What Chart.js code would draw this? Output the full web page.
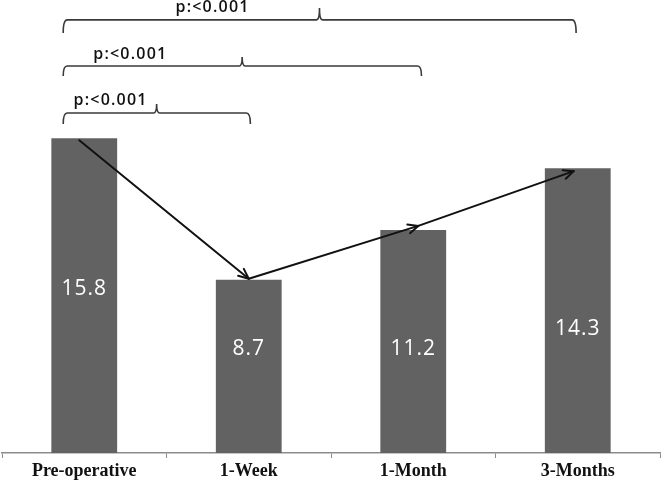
<!DOCTYPE html>
<html>
<head>
<meta charset="utf-8">
<script src="https://cdn.jsdelivr.net/npm/chart.js@4/dist/chart.umd.min.js"></script>
<style>
  html, body { margin: 0; padding: 0; background: #ffffff; }
  #wrap { width: 662px; height: 485px; position: relative; }
</style>
</head>
<body>
<div id="wrap"><canvas id="c"></canvas></div>
<script>
// ---- data ----
const categories = ['Pre-operative', '1-Week', '1-Month', '3-Months'];
const values = [15.8, 8.7, 11.2, 14.3];
const valueLabels = ['15.8', '8.7', '11.2', '14.3'];
const comparisonFrom = [0, 0, 0];
const comparisonTo = [1, 2, 3];
const pLabels = ['p:<0.001', 'p:<0.001', 'p:<0.001'];

// ---- annotation plugin ----
const overlay = {
  id: 'overlay',
  afterDatasetsDraw(chart, args, opts) {
    const ctx = chart.ctx;
    const xs = chart.scales.x, ys = chart.scales.y;
    const meta = chart.getDatasetMeta(0);
    const cw = xs.getPixelForValue(1) - xs.getPixelForValue(0);
    const catX = (c) => xs.getPixelForValue(0) + c * cw;

    // value labels inside bars
    ctx.save();
    ctx.fillStyle = '#ffffff';
    ctx.font = '21px "Open Sans", "Liberation Sans", sans-serif';
    ctx.letterSpacing = '1px';
    ctx.textAlign = 'center';
    ctx.textBaseline = 'middle';
    meta.data.forEach((bar, i) => {
      ctx.fillText(valueLabels[i], bar.x, ys.getPixelForValue(opts.labelAt[i]));
    });
    ctx.restore();

    // arrows between bar tops
    const pts = meta.data.map((bar, i) => ({
      x: bar.x + opts.arrowDx[i],
      y: ys.getPixelForValue(values[i]) + opts.arrowDy[i]
    }));
    ctx.save();
    ctx.strokeStyle = '#111111';
    ctx.lineWidth = 2;
    ctx.lineCap = 'round';
    ctx.lineJoin = 'round';
    for (let i = 0; i < pts.length - 1; i++) {
      const a = pts[i], b = pts[i + 1];
      ctx.beginPath();
      ctx.moveTo(a.x, a.y);
      ctx.lineTo(b.x, b.y);
      ctx.stroke();
      const ang = Math.atan2(b.y - a.y, b.x - a.x);
      const L = 11, W = 0.42;
      ctx.beginPath();
      ctx.moveTo(b.x - L * Math.cos(ang - W), b.y - L * Math.sin(ang - W));
      ctx.lineTo(b.x, b.y);
      ctx.lineTo(b.x - L * Math.cos(ang + W), b.y - L * Math.sin(ang + W));
      ctx.stroke();
    }
    ctx.restore();

    // significance brackets
    ctx.save();
    ctx.strokeStyle = '#3a3a3a';
    ctx.lineWidth = 1.6;
    opts.brackets.forEach((b, k) => {
      const xl = catX(comparisonFrom[k] + b.left);
      const xr = catX(comparisonTo[k] + b.right);
      const xp = catX(b.peak);
      const y = ys.getPixelForValue(b.level);
      const drop = b.drop, up = b.up;
      ctx.beginPath();
      ctx.moveTo(xl, y + drop);
      ctx.quadraticCurveTo(xl, y, xl + 4, y);
      ctx.lineTo(xp - 3, y);
      ctx.quadraticCurveTo(xp, y, xp, y - up);
      ctx.quadraticCurveTo(xp, y, xp + 3, y);
      ctx.lineTo(xr - 4, y);
      ctx.quadraticCurveTo(xr, y, xr, y + drop);
      ctx.stroke();
      ctx.fillStyle = '#111111';
      ctx.font = '600 16px "Open Sans", "Liberation Sans", sans-serif';
      ctx.letterSpacing = '1.2px';
      ctx.textAlign = 'center';
      ctx.textBaseline = 'middle';
      ctx.fillText(pLabels[k], catX(b.textAt), y + b.textDy);
    });
    ctx.restore();
  }
};

new Chart(document.getElementById('c'), {
  type: 'bar',
  data: {
    labels: categories,
    datasets: [{
      data: values,
      backgroundColor: '#626262',
      borderWidth: 0,
      barPercentage: 0.40,
      categoryPercentage: 1.0
    }]
  },
  options: {
    responsive: true,
    maintainAspectRatio: false,
    animation: false,
    layout: { padding: { left: 2, right: 2, top: 0, bottom: 1 } },
    plugins: {
      legend: { display: false },
      tooltip: { enabled: false },
      overlay: {
        labelAt: [8.25, 5.2, 5.2, 6.2],
        arrowDx: [-5, 0, 5, -4],
        arrowDy: [2, -1, -4, 3],
        brackets: [
          { left: -0.128, right: 0.01, peak: 0.44, level: 17.07, drop: 11, up: 9, textAt: 0.16, textDy: -13 },
          { left: -0.128, right: 0.05, peak: 0.96, level: 19.43, drop: 10, up: 9, textAt: 0.28, textDy: -12 },
          { left: -0.128, right: -0.01, peak: 1.43, level: 21.74, drop: 13, up: 12, textAt: 0.78, textDy: -12 }
        ]
      }
    },
    scales: {
      x: {
        grid: {
          display: true,
          offset: true,
          drawOnChartArea: false,
          drawTicks: true,
          tickLength: 5,
          color: '#8c8c8c'
        },
        border: { display: true, color: '#8c8c8c', width: 1.5 },
        ticks: {
          color: '#111111',
          padding: 4,
          font: { family: '"Liberation Serif", "Times New Roman", serif', size: 18, weight: 'bold', lineHeight: 1.0 }
        }
      },
      y: {
        display: false,
        min: 0,
        max: 22.74
      }
    }
  },
  plugins: [overlay]
});
</script>
</body>
</html>
